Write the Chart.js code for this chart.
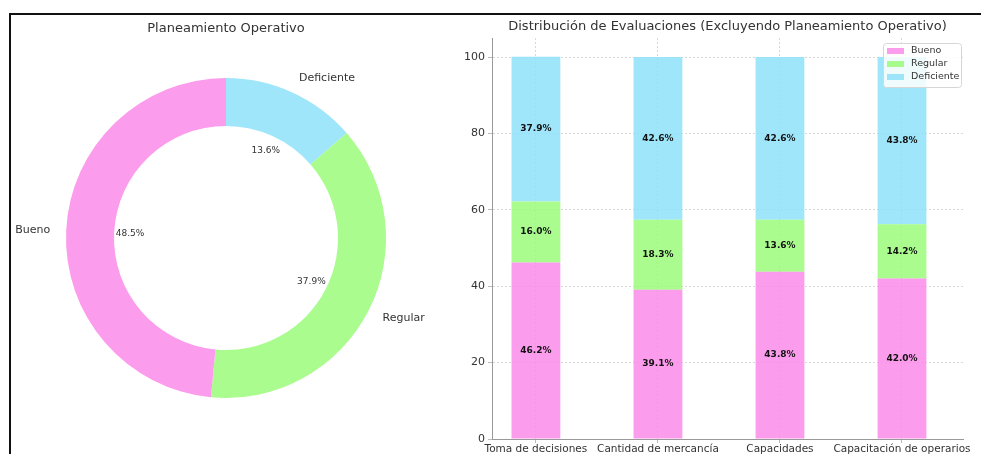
<!DOCTYPE html>
<html>
<head>
<meta charset="utf-8">
<script src="https://cdn.jsdelivr.net/npm/chart.js@4.4.1/dist/chart.umd.min.js"></script>
<style>
  html, body { margin: 0; padding: 0; background: #fff; }
  body { width: 981px; height: 454px; position: relative; overflow: hidden; font-family: 'DejaVu Sans', sans-serif; }
  #frame { position: absolute; left: 9px; top: 13px; width: 1000px; height: 500px; border: 2px solid #111; box-sizing: border-box; }
  #donut { position: absolute; left: 10px; top: 14px; }
  #bars { position: absolute; left: 440px; top: 14px; }
</style>
</head>
<body>
<div id="frame"></div>
<canvas id="donut" width="430" height="440"></canvas>
<canvas id="bars" width="541" height="440"></canvas>
<script>
// Planeamiento Operativo (donut)
const donutLabels = ['Bueno', 'Regular', 'Deficiente'];
const donutValues = [48.5, 37.9, 13.6];

// Other areas (stacked bars)
const categories = ['Toma de decisiones', 'Cantidad de mercancía', 'Capacidades', 'Capacitación de operarios'];
const bueno = [46.2, 39.1, 43.8, 42.0];
const regular = [16.0, 18.3, 13.6, 14.2];
const deficiente = [37.9, 42.6, 42.6, 43.8];
const yTicks = [0, 20, 40, 60, 80, 100];

const FONT = "'DejaVu Sans', sans-serif";
const TEXT = '#333';
const solid = { Bueno: '#fc9cec', Regular: '#a9fc8d', Deficiente: '#a0e6fa' };
const soft = { Bueno: 'rgba(251,139,233,0.85)', Regular: 'rgba(154,251,121,0.85)', Deficiente: 'rgba(143,226,249,0.85)' };

// matplotlib draws wedges counter-clockwise from the top; Chart.js goes clockwise,
// so feed the slices in reverse order.
const revLabels = donutLabels.slice().reverse();
const revValues = donutValues.slice().reverse();

const donutText = {
  id: 'donutText',
  afterDraw(chart) {
    const { ctx, chartArea } = chart;
    ctx.save();
    ctx.fillStyle = TEXT;
    ctx.font = `13px ${FONT}`;
    ctx.textAlign = 'center';
    ctx.textBaseline = 'middle';
    ctx.fillText('Planeamiento Operativo', (chartArea.left + chartArea.right) / 2, 15);

    chart.getDatasetMeta(0).data.forEach((arc, i) => {
      const { x, y, startAngle, endAngle, outerRadius } = arc.getProps(['x', 'y', 'startAngle', 'endAngle', 'outerRadius'], true);
      const mid = (startAngle + endAngle) / 2;
      const c = Math.cos(mid), s = Math.sin(mid);
      ctx.font = `11px ${FONT}`;
      ctx.textAlign = c >= 0 ? 'left' : 'right';
      ctx.fillText(revLabels[i], x + c * outerRadius * 1.1, y + s * outerRadius * 1.1);
      ctx.font = `9px ${FONT}`;
      ctx.textAlign = 'center';
      ctx.fillText(revValues[i].toFixed(1) + '%', x + c * outerRadius * 0.6, y + s * outerRadius * 0.6);
    });
    ctx.restore();
  }
};

new Chart(document.getElementById('donut'), {
  type: 'doughnut',
  data: {
    labels: revLabels,
    datasets: [{
      data: revValues,
      backgroundColor: revLabels.map(l => solid[l]),
      borderWidth: 0,
      hoverOffset: 0
    }]
  },
  options: {
    responsive: false,
    animation: false,
    cutout: '70%',
    layout: { padding: { left: 56, top: 64, right: 54, bottom: 56 } },
    plugins: { legend: { display: false }, tooltip: { enabled: false } }
  },
  plugins: [donutText]
});

// Stacked bars: percentage inside each segment, title and legend box.
const barText = {
  id: 'barText',
  afterDatasetsDraw(chart) {
    const { ctx } = chart;
    ctx.save();
    ctx.fillStyle = '#111';
    ctx.font = `bold 9px ${FONT}`;
    ctx.textAlign = 'center';
    ctx.textBaseline = 'middle';
    chart.data.datasets.forEach((ds, di) => {
      chart.getDatasetMeta(di).data.forEach((bar, i) => {
        const { x, y, base } = bar.getProps(['x', 'y', 'base'], true);
        ctx.fillText(ds.data[i].y.toFixed(1) + '%', x, (y + base) / 2);
      });
    });
    ctx.restore();
  },
  afterDraw(chart) {
    const { ctx, chartArea } = chart;
    ctx.save();
    ctx.fillStyle = TEXT;
    ctx.font = `13px ${FONT}`;
    ctx.textAlign = 'center';
    ctx.textBaseline = 'middle';
    ctx.fillText('Distribución de Evaluaciones (Excluyendo Planeamiento Operativo)', (chartArea.left + chartArea.right) / 2, 13);

    // legend, upper right corner
    const w = 78, h = 44;
    const bx = chartArea.right - 2 - w, by = chartArea.top + 5;
    ctx.fillStyle = 'rgba(255,255,255,0.85)';
    ctx.strokeStyle = '#d6d6d6';
    ctx.lineWidth = 1;
    ctx.beginPath();
    ctx.roundRect(bx + 0.5, by + 0.5, w, h, 3);
    ctx.fill();
    ctx.stroke();
    ctx.font = `9.5px ${FONT}`;
    ctx.textAlign = 'left';
    chart.data.datasets.forEach((ds, i) => {
      const ry = by + 8 + i * 13;
      ctx.fillStyle = ds.backgroundColor;
      ctx.fillRect(bx + 4, ry - 3, 17, 6);
      ctx.fillStyle = TEXT;
      ctx.fillText(ds.label, bx + 28, ry);
    });
    ctx.restore();
  }
};

const series = [['Bueno', bueno], ['Regular', regular], ['Deficiente', deficiente]];
const grid = { color: '#d8d8d8', tickColor: '#bbb', tickLength: 4, tickBorderDash: [], offset: false };
const border = { color: '#999', dash: [2, 2] };

new Chart(document.getElementById('bars'), {
  type: 'bar',
  data: {
    datasets: series.map(([label, vals]) => ({
      label,
      data: vals.map((v, i) => ({ x: i, y: v })),
      backgroundColor: soft[label],
      borderWidth: 0,
      barPercentage: 0.4,
      categoryPercentage: 1
    }))
  },
  options: {
    responsive: false,
    animation: false,
    layout: { padding: { top: 24, right: 18, left: 0, bottom: 0 } },
    plugins: { legend: { display: false }, tooltip: { enabled: false } },
    scales: {
      x: {
        type: 'linear',
        stacked: true,
        offset: false,
        min: -0.36,
        max: 3.5,
        grid,
        border,
        afterBuildTicks: s => { s.ticks = categories.map((_, i) => ({ value: i })); },
        afterFit: s => { s.height = 15; },
        ticks: {
          color: TEXT,
          font: { family: FONT, size: 10.5 },
          padding: 0,
          maxRotation: 0,
          minRotation: 0,
          autoSkip: false,
          callback: v => categories[v] ?? ''
        }
      },
      y: {
        stacked: true,
        min: 0,
        max: 105,
        grid,
        border,
        afterBuildTicks: s => { s.ticks = yTicks.map(v => ({ value: v })); },
        afterFit: s => { s.width = 52; },
        ticks: { color: TEXT, font: { family: FONT, size: 11 }, padding: 3 }
      }
    }
  },
  plugins: [barText]
});
</script>
</body>
</html>
